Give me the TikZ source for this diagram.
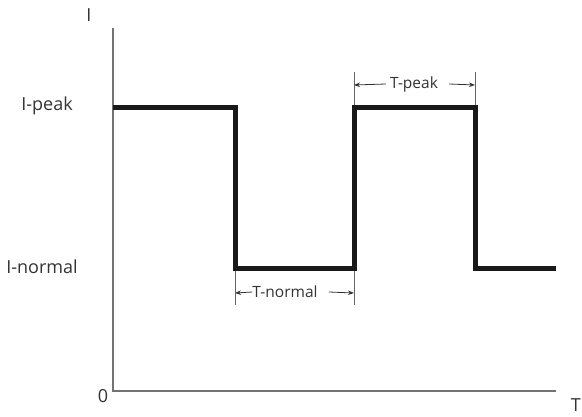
\documentclass[tikz,border=0pt]{standalone}
\usepackage{fontspec}
\setmainfont{Open Sans}
\usetikzlibrary{arrows.meta}
\begin{document}
\begin{tikzpicture}[x=1pt,y=-1pt,>={Stealth[length=6pt,width=4.5pt]}, font=\fontsize{18}{21}\selectfont, line join=miter,
  axis/.style={draw=black!55, line width=1.6pt},
  signal/.style={draw=black!90, line width=5pt},
  dimline/.style={draw=black!60, line width=0.8pt},
  dimarrow/.style={->, draw=black!80, line width=0.8pt},
  lbl/.style={text=black!80, inner sep=1pt},
  dimlbl/.style={lbl, font=\fontsize{15.5}{18}\selectfont}]
  \useasboundingbox (0,0) rectangle (582,417);
  \def\xo{113} \def\yo{391} % Gốc toạ độ
  \def\yp{108} \def\yn{269} % I-peak, I-normal
  \def\ta{235} \def\tb{354} \def\tc{475} \def\te{556}
  \coordinate (O) at (\xo,\yo);
  \coordinate (ytop) at (\xo,28);
  \coordinate (xend) at (\te,\yo);
  \draw[axis] (ytop)--(O)--(xend);
  \node[lbl] (lI) at (89,15) {I};
  \node[lbl,anchor=east] (lT) at (582,405) {T};
  \node[lbl] (l0) at (103,396) {0};
  \node[lbl] (lpeak) at (47,106) {I-peak};
  \node[lbl] (lnormal) at (42,267) {I-normal};
  \draw[signal] (\xo,\yp)--(\ta,\yp)--(\ta,\yn)--(\tb,\yn)--(\tb,\yp)--(\tc,\yp)--(\tc,\yn)--(\te,\yn);
  % T-peak
  \draw[dimline] (\tb,72)--(\tb,\yp-2.5);
  \draw[dimline] (\tc,72)--(\tc,\yp-2.5);
  \node[dimlbl] (tpk) at (414,84) {T-peak};
  \draw[dimarrow] ([xshift=-3pt]tpk.west)--(\tb,85);
  \draw[dimarrow] ([xshift=10pt]tpk.east)--(\tc,85);
  % T-normal
  \draw[dimline] (\ta,\yn+2.5)--(\ta,305);
  \draw[dimline] (\tb,\yn+2.5)--(\tb,305);
  \node[dimlbl] (tnm) at (285,292) {T-normal};
  \draw[dimarrow] ([xshift=1pt]tnm.west)--(\ta,293);
  \draw[dimarrow] ([xshift=10pt]tnm.east)--(\tb,293);
\end{tikzpicture}
\end{document}
